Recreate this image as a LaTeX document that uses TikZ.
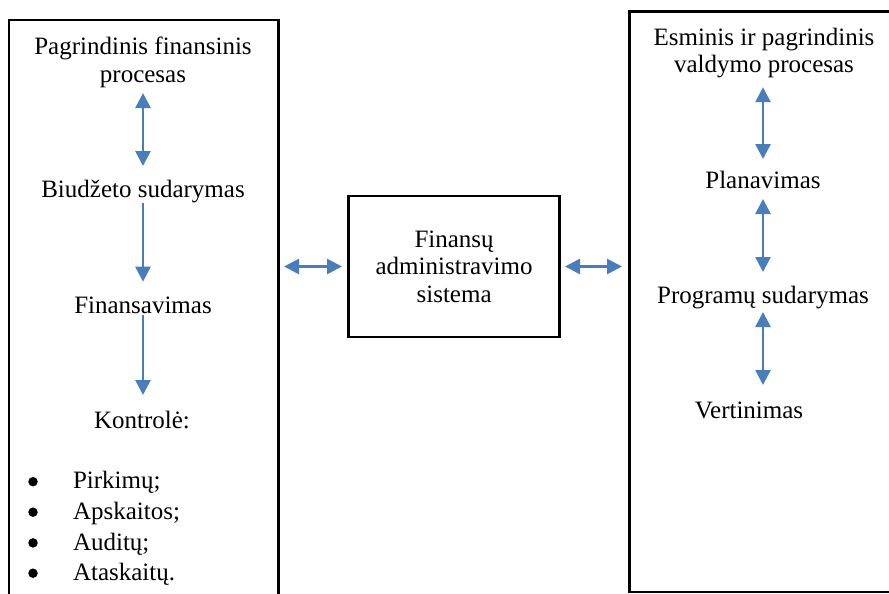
\documentclass[tikz,border=0pt]{standalone}
\usepackage{fontspec}
\setmainfont{Liberation Serif}
\usetikzlibrary{arrows.meta}
\definecolor{linkblue}{HTML}{4A7EBB}
\begin{document}
\begin{tikzpicture}[x=1pt,y=-1pt,
  every node/.style={inner sep=0pt, outer sep=0pt, font=\fontsize{25}{27.5}\selectfont},
  frame/.style={draw=black, line width=2.7pt, minimum width=#1},
  lbl/.style={anchor=base, text height=17pt, text depth=6pt},
  head/.style={anchor=north, align=center},
  itemtext/.style={anchor=base west},
  dot/.style={circle, fill=black, minimum size=9.5pt},
  tip/.style={Triangle[length=15pt,width=15pt]},
  flow/.style={draw=linkblue, line width=2.7pt, -{Triangle[length=15pt,width=15pt]}},
  twoway/.style={draw=linkblue, line width=2.7pt, {Triangle[length=15pt,width=15pt]}-{Triangle[length=15pt,width=15pt]}}
]
\useasboundingbox (0,0) rectangle (889,594);

% outer process frames and the central system box
\node[frame=269.5pt, minimum height=620pt] (lbox) at (143.75,330) {};
\node[frame=300.5pt, minimum height=580.5pt] (rbox) at (779.75,301.75) {};
\node[frame=210.8pt, minimum height=141pt, align=center] (fas) at (454.1,266.5)
  {Finansų\\administravimo\\sistema};

% left column: financial process
\node[head] (ltop) at (143,37) {Pagrindinis finansinis\\procesas};
\node[lbl] (bud) at (143,197) {Biudžeto sudarymas};
\node[lbl] (fin) at (143,313) {Finansavimas};
\node[lbl] (kon) at (142,428) {Kontrolė:};

\node[itemtext] (i1) at (73,488) {Pirkimų;};
\node[itemtext] (i2) at (73,519) {Apskaitos;};
\node[itemtext] (i3) at (73,550) {Auditų;};
\node[itemtext] (i4) at (73,580) {Ataskaitų.};
\node[dot] (d1) at (33,481.7) {};
\node[dot] (d2) at (33,512.2) {};
\node[dot] (d3) at (33,542.9) {};
\node[dot] (d4) at (33,573.2) {};

% right column: management process
\node[head] (rtop) at (764,28) {Esminis ir pagrindinis\\valdymo procesas};
\node[lbl] (plan) at (763,188) {Planavimas};
\node[lbl] (prog) at (763,303) {Programų sudarymas};
\node[lbl] (vert) at (749,418) {Vertinimas};

% connectors inside the left column
\draw[twoway, shorten <=5.6pt, shorten >=14pt] (ltop.south) -- (bud.north);
\draw[flow, shorten <=0pt, shorten >=14.3pt] (bud.south) -- (fin.north);
\draw[flow, shorten <=-4pt, shorten >=16pt] (fin.south) -- (fin.south |- kon.north);

% connectors inside the right column
\draw[twoway, shorten <=9pt, shorten >=12pt] (rtop.south -| plan.north) -- (plan.north);
\draw[twoway, shorten <=5pt, shorten >=14pt] (plan.south) -- (prog.north);
\draw[twoway, shorten <=3pt, shorten >=16pt] (prog.south) -- (prog.south |- vert.north);

% links between the frames and the central box
\draw[twoway, shorten <=5.5pt, shorten >=6.7pt] (fas.west -| lbox.east) -- (fas.west);
\draw[twoway, shorten <=5.5pt, shorten >=7.5pt] (fas.east) -- (fas.east -| rbox.west);
\end{tikzpicture}
\end{document}
